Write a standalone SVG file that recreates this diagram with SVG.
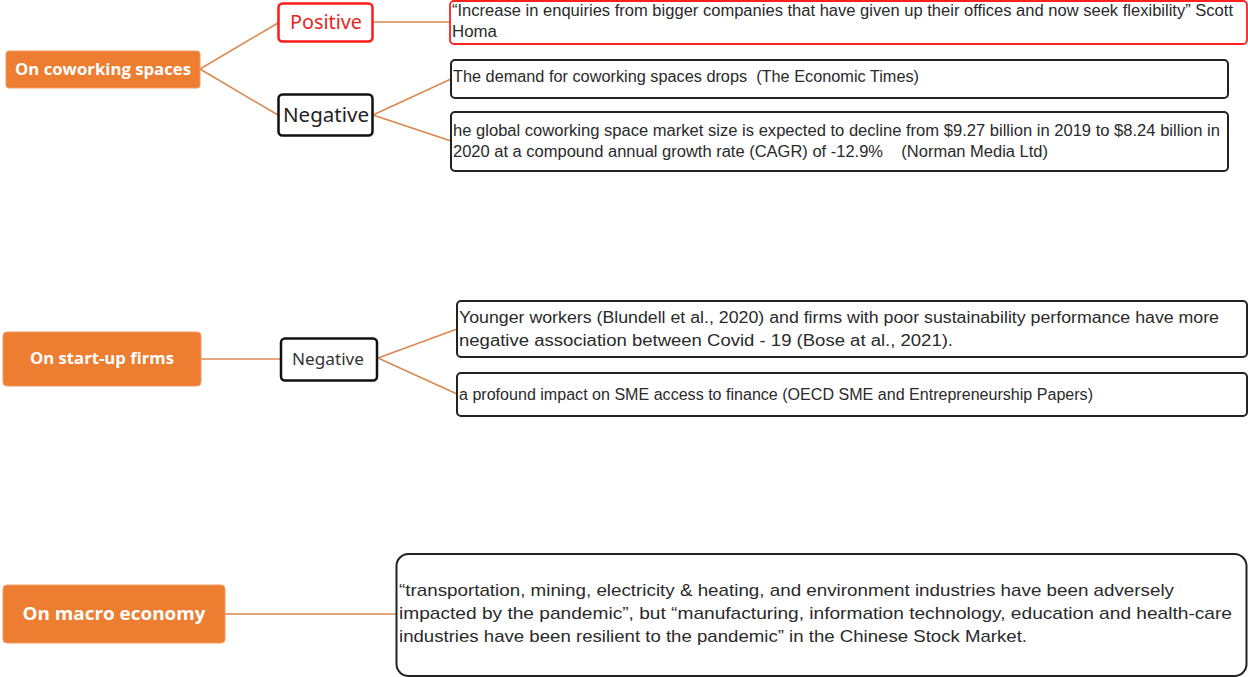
<svg xmlns="http://www.w3.org/2000/svg" width="1248" height="677" viewBox="0 0 1248 677">
<style>
.topic{fill:#ED7D31;stroke:#F29B63;stroke-width:1}
.topic-t{font-family:"Open Sans","Liberation Sans",sans-serif;font-weight:bold;fill:#fff;text-anchor:middle}
.lbl{fill:#fff;stroke:#111;stroke-width:2.5}
.lbl-red{fill:#fff;stroke:#FF1A1A;stroke-width:2.5}
.box{fill:#fff;stroke:#222;stroke-width:2}
.box-red{fill:#fff;stroke:#FF2020;stroke-width:1.8}
.txt{font-family:"Liberation Sans",Arial,sans-serif;fill:#2a2a2a;font-size:16px}
.big{font-family:"Liberation Sans",Arial,sans-serif;fill:#2a2a2a;font-size:17px}
.conn{stroke:#D9884E;stroke-width:1.5;fill:none}
</style>
<rect width="1248" height="677" fill="#fff"/>
<g id="connectors">
<line class="conn" x1="200" y1="69" x2="278" y2="23"/>
<line class="conn" x1="200" y1="69" x2="278" y2="115"/>
<line class="conn" x1="373" y1="22" x2="450" y2="22"/>
<line class="conn" x1="373" y1="115" x2="451" y2="79"/>
<line class="conn" x1="373" y1="115" x2="451" y2="141"/>
<line class="conn" x1="201" y1="359" x2="280" y2="359"/>
<line class="conn" x1="378" y1="358" x2="457" y2="329"/>
<line class="conn" x1="378" y1="358" x2="457" y2="394"/>
<line class="conn" x1="225" y1="614" x2="396" y2="614"/>
</g>
<g id="n-coworking">
<rect class="topic" x="6" y="51" width="194" height="37" rx="3"/>
<text class="topic-t" x="103" y="75" font-size="16" textLength="176" lengthAdjust="spacingAndGlyphs">On coworking spaces</text>
</g>
<g id="n-positive">
<rect class="lbl-red" x="278.5" y="3.5" width="94" height="38" rx="4"/>
<text x="326" y="29" font-family="Noto Sans,Liberation Sans,sans-serif" font-size="19" fill="#E82525" text-anchor="middle" textLength="72" lengthAdjust="spacingAndGlyphs">Positive</text>
</g>
<g id="n-negative1">
<rect class="lbl" x="278.5" y="94.5" width="94" height="41" rx="4"/>
<text x="326" y="122" font-family="Noto Sans,Liberation Sans,sans-serif" font-size="20" fill="#222" text-anchor="middle" textLength="86" lengthAdjust="spacingAndGlyphs">Negative</text>
</g>
<g id="n-pos-text">
<rect class="box-red" x="450" y="1" width="797" height="43" rx="4"/>
<text class="txt" x="452" y="16" textLength="781" lengthAdjust="spacingAndGlyphs">“Increase in enquiries from bigger companies that have given up their offices and now seek flexibility” Scott</text>
<text class="txt" x="452" y="37" textLength="45" lengthAdjust="spacingAndGlyphs">Homa</text>
</g>
<g id="n-demand">
<rect class="box" x="451" y="60" width="777" height="38" rx="4"/>
<text class="txt" x="453" y="82" textLength="466" lengthAdjust="spacingAndGlyphs" xml:space="preserve">The demand for coworking spaces drops  (The Economic Times)</text>
</g>
<g id="n-market">
<rect class="box" x="451" y="112" width="777" height="59" rx="4"/>
<text class="txt" x="453" y="136" textLength="767" lengthAdjust="spacingAndGlyphs">he global coworking space market size is expected to decline from $9.27 billion in 2019 to $8.24 billion in</text>
<text class="txt" x="453" y="157" textLength="595" lengthAdjust="spacingAndGlyphs" xml:space="preserve">2020 at a compound annual growth rate (CAGR) of -12.9%    (Norman Media Ltd)</text>
</g>
<g id="n-startup">
<rect class="topic" x="3" y="332" width="198" height="54" rx="4"/>
<text class="topic-t" x="102" y="364" font-size="16" textLength="144" lengthAdjust="spacingAndGlyphs">On start-up firms</text>
</g>
<g id="n-negative2">
<rect class="lbl" x="281" y="338.5" width="96" height="42" rx="4"/>
<text x="328" y="365" font-family="Noto Sans,Liberation Sans,sans-serif" font-size="16" fill="#333" text-anchor="middle" textLength="72" lengthAdjust="spacingAndGlyphs">Negative</text>
</g>
<g id="n-younger">
<rect class="box" x="457" y="301" width="790" height="56" rx="4"/>
<text class="txt" x="459" y="323" font-size="16.5" textLength="760" lengthAdjust="spacingAndGlyphs">Younger workers (Blundell et al., 2020) and firms with poor sustainability performance have more</text>
<text class="txt" x="459" y="346" font-size="16.5" textLength="494" lengthAdjust="spacingAndGlyphs">negative association between Covid - 19 (Bose at al., 2021).</text>
</g>
<g id="n-sme">
<rect class="box" x="457" y="373" width="790" height="43" rx="4"/>
<text class="txt" x="459" y="400" textLength="634" lengthAdjust="spacingAndGlyphs">a profound impact on SME access to finance (OECD SME and Entrepreneurship Papers)</text>
</g>
<g id="n-macro">
<rect class="topic" x="3" y="585" width="222" height="58" rx="4"/>
<text class="topic-t" x="114" y="620" font-size="18" textLength="183" lengthAdjust="spacingAndGlyphs">On macro economy</text>
</g>
<g id="n-macro-text">
<rect class="box" x="396.5" y="554" width="850" height="122" rx="12"/>
<text class="big" x="399" y="596" textLength="775" lengthAdjust="spacingAndGlyphs">“transportation, mining, electricity &amp; heating, and environment industries have been adversely</text>
<text class="big" x="399" y="619" textLength="833" lengthAdjust="spacingAndGlyphs">impacted by the pandemic”, but “manufacturing, information technology, education and health-care</text>
<text class="big" x="399" y="642" textLength="628" lengthAdjust="spacingAndGlyphs">industries have been resilient to the pandemic” in the Chinese Stock Market.</text>
</g>
</svg>
